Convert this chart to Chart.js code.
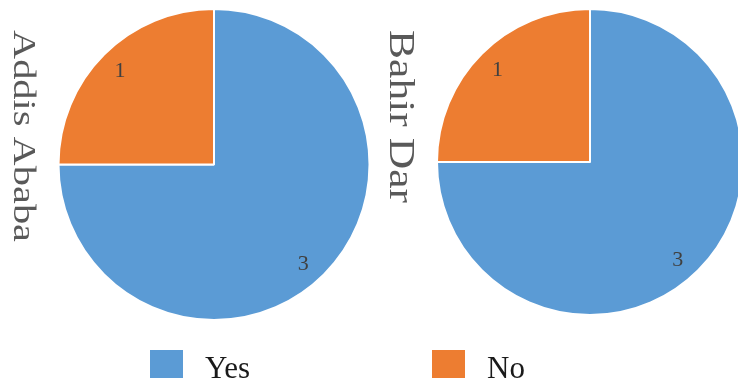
<!DOCTYPE html>
<html>
<head>
<meta charset="utf-8">
<script src="https://cdn.jsdelivr.net/npm/chart.js@4/dist/chart.umd.min.js"></script>
<style>
  html, body { margin: 0; padding: 0; background: #fff; overflow: hidden; width: 738px; height: 383px; }
  canvas { position: absolute; left: 0; top: 0; }
</style>
</head>
<body>
<canvas id="pie-addis" width="738" height="383"></canvas>
<canvas id="pie-bahir" width="760" height="383"></canvas>
<script>
// survey answers per city
const answers = ['Yes', 'No'];
const addisCounts = [3, 1];
const bahirCounts = [3, 1];
const cityNames = ['Addis Ababa', 'Bahir Dar'];
const sliceColors = ['#5B9BD5', '#ED7D31'];

const SERIF = '"Liberation Serif", "DejaVu Serif", serif';

// vertical city name on the left of each pie, stretched to a given length
const sideTitle = {
  id: 'sideTitle',
  afterDraw(chart, args, opts) {
    const ctx = chart.ctx;
    ctx.save();
    ctx.font = opts.size + 'px ' + SERIF;
    ctx.fillStyle = '#595959';
    ctx.textAlign = 'left';
    ctx.textBaseline = 'alphabetic';
    const w = ctx.measureText(opts.text).width;
    ctx.translate(opts.x, opts.top);
    ctx.rotate(Math.PI / 2);
    ctx.scale(opts.length / w, 1);
    ctx.fillText(opts.text, 0, 0);
    ctx.restore();
  }
};

// value labels inside each slice, pushed a little clockwise like the office default
const sliceLabels = {
  id: 'sliceLabels',
  afterDatasetsDraw(chart) {
    const ctx = chart.ctx;
    const meta = chart.getDatasetMeta(0);
    const values = chart.data.datasets[0].data;
    ctx.save();
    ctx.font = '22px ' + SERIF;
    ctx.fillStyle = '#404040';
    ctx.textAlign = 'center';
    ctx.textBaseline = 'middle';
    meta.data.forEach((arc, i) => {
      const {x, y, startAngle, endAngle, outerRadius} = arc.getProps(['x', 'y', 'startAngle', 'endAngle', 'outerRadius'], true);
      const span = endAngle - startAngle;
      const mid = (startAngle + endAngle) / 2 + (span > Math.PI ? 0.05 : 0);
      const r = outerRadius * 0.855;
      ctx.fillText(String(values[i]), x + Math.cos(mid) * r, y + Math.sin(mid) * r + 1);
    });
    ctx.restore();
  }
};

// shared legend along the bottom
const bottomLegend = {
  id: 'bottomLegend',
  afterDraw(chart, args, opts) {
    const ctx = chart.ctx;
    const colors = chart.data.datasets[0].backgroundColor;
    ctx.save();
    ctx.font = '31px ' + SERIF;
    ctx.textBaseline = 'alphabetic';
    ctx.textAlign = 'left';
    chart.data.labels.forEach((label, i) => {
      const x = opts.itemX[i];
      ctx.fillStyle = colors[i];
      ctx.fillRect(x, opts.boxTop, 33, 28);
      ctx.fillStyle = '#1a1a1a';
      ctx.fillText(label, x + 55, opts.baseline);
    });
    ctx.restore();
  }
};

function pieConfig(counts, padding, extra, plugins) {
  return {
    type: 'pie',
    data: {
      labels: answers,
      datasets: [{
        data: counts,
        backgroundColor: sliceColors,
        borderColor: '#ffffff',
        borderWidth: 2
      }]
    },
    options: {
      responsive: false,
      animation: false,
      layout: { padding: padding },
      plugins: Object.assign({
        legend: { display: false },
        tooltip: { enabled: false }
      }, extra)
    },
    plugins: plugins
  };
}

new Chart(document.getElementById('pie-addis'), pieConfig(
  addisCounts,
  { left: 57.5, top: 8, right: 367.5, bottom: 62 },
  {
    sideTitle: { text: cityNames[0], x: 14, top: 30, length: 212, size: 31 },
    bottomLegend: { itemX: [150, 432], boxTop: 350, baseline: 378 }
  },
  [sliceLabels, sideTitle, bottomLegend]
));

new Chart(document.getElementById('pie-bahir'), pieConfig(
  bahirCounts,
  { left: 436, top: 8, right: 16, bottom: 67 },
  {
    sideTitle: { text: cityNames[1], x: 390, top: 30, length: 173, size: 35 }
  },
  [sliceLabels, sideTitle]
));
</script>
</body>
</html>
